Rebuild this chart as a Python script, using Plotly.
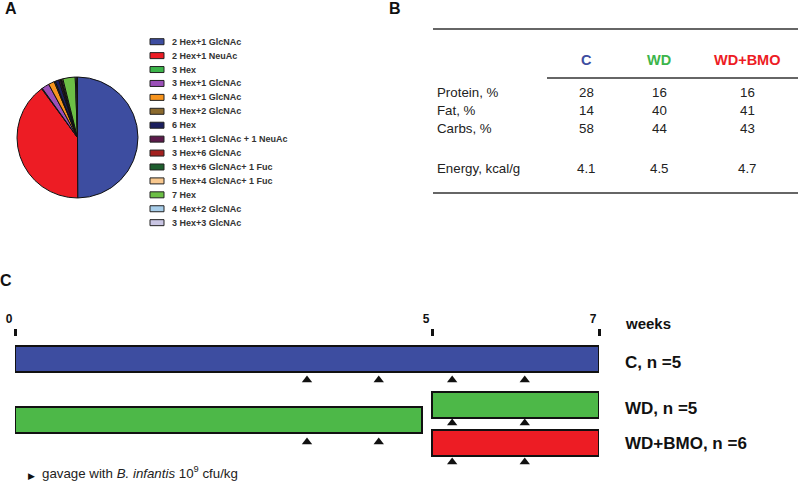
import plotly.graph_objects as go

# ---------------- data ----------------
glycan_labels = [
    "2 Hex+1 GlcNAc", "2 Hex+1 NeuAc", "3 Hex", "3 Hex+1 GlcNAc", "4 Hex+1 GlcNAc",
    "3 Hex+2 GlcNAc", "6 Hex", "1 Hex+1 GlcNAc + 1 NeuAc", "3 Hex+6 GlcNAc",
    "3 Hex+6 GlcNAc+ 1 Fuc", "5 Hex+4 GlcNAc+ 1 Fuc", "7 Hex", "4 Hex+2 GlcNAc",
    "3 Hex+3 GlcNAc",
]
glycan_values = [50.0, 40.0, 0.2, 2.0, 1.6, 0.3, 1.0, 0.4, 0.2, 0.2, 0.3, 3.3, 0.3, 0.3]
glycan_colors = [
    "#3D4DA0", "#ED1C24", "#3CB54A", "#9B50B8", "#F7941D", "#8B6A2E", "#1B1F5E",
    "#5B1A4A", "#A3201F", "#1E5E2E", "#F9C88E", "#6CBF45", "#A8CEEA", "#C9C5E3",
]

diet_groups = ["C", "WD", "WD+BMO"]
diet_colors = ["#3D4DA0", "#3CB54A", "#ED1C24"]
nutrient_rows = ["Protein, %", "Fat, %", "Carbs, %", "Energy, kcal/g"]
c_values = ["28", "14", "58", "4.1"]
wd_values = ["16", "40", "44", "4.5"]
wdbmo_values = ["16", "41", "43", "4.7"]

week_ticks = [0, 5, 7]
group_labels = ["C, n =5", "WD, n =5", "WD+BMO, n =6"]
phase_start = [0, 0, 5, 5]
phase_end = [7, 4.88, 7, 7]
phase_color = ["#3D4DA0", "#4DB848", "#4DB848", "#ED1C24"]
gavage_weeks_c = [3.5, 4.36, 5.24, 6.11]
gavage_weeks_wd = [3.5, 4.36, 5.24, 6.11]
gavage_weeks_wdbmo = [5.24, 6.11]

# ---------------- layout helpers ----------------
W, H = 800, 482
FONT = "Arial, Liberation Sans, sans-serif"


def px(x):
    return x / W


def py(y):
    return 1 - y / H


fig = go.Figure()
annotations = []
shapes = []

# ---------------- Panel A: pie ----------------
fig.add_trace(go.Pie(
    values=glycan_values, labels=glycan_labels, sort=False, direction="clockwise",
    rotation=0, textinfo="none", hoverinfo="label+percent",
    marker=dict(colors=glycan_colors, line=dict(color="#111111", width=1)),
    domain=dict(x=[px(17), px(138)], y=[py(198), py(77)]),
    showlegend=False,
))

leg_y0, leg_dy = 41.7, 13.92
for i, (lab, col) in enumerate(zip(glycan_labels, glycan_colors)):
    yc = leg_y0 + leg_dy * i
    shapes.append(dict(type="rect", xref="paper", yref="paper",
                       x0=px(150), x1=px(164), y0=py(yc + 3), y1=py(yc - 3),
                       fillcolor=col, line=dict(color="#222222", width=1)))
    annotations.append(dict(xref="paper", yref="paper", x=px(170), y=py(yc),
                            xanchor="left", yanchor="middle", showarrow=False,
                            text="<b>%s</b>" % lab,
                            font=dict(family=FONT, size=9, color="#333333")))

# ---------------- Panel B: table ----------------
for yline, x0 in [(29, 433), (78, 547), (193, 433)]:
    shapes.append(dict(type="line", xref="paper", yref="paper",
                       x0=px(x0), x1=px(798), y0=py(yline), y1=py(yline),
                       line=dict(color="#333333", width=1.5)))

col_x = [586, 659, 747]
for g, c, x in zip(diet_groups, diet_colors, col_x):
    annotations.append(dict(xref="paper", yref="paper", x=px(x), y=py(60),
                            xanchor="center", yanchor="middle", showarrow=False,
                            text="<b>%s</b>" % g, font=dict(family=FONT, size=14.5, color=c)))

row_y = [93, 111, 129, 168]
for r, yv, a, b, c in zip(nutrient_rows, row_y, c_values, wd_values, wdbmo_values):
    annotations.append(dict(xref="paper", yref="paper", x=px(435), y=py(yv),
                            xanchor="left", yanchor="middle", showarrow=False,
                            text=r, font=dict(family=FONT, size=13.3, color="#222222")))
    for v, x in zip([a, b, c], col_x):
        annotations.append(dict(xref="paper", yref="paper", x=px(x), y=py(yv),
                                xanchor="center", yanchor="middle", showarrow=False,
                                text=v, font=dict(family=FONT, size=13.3, color="#222222")))

# ---------------- Panel C: timeline ----------------
row_center = {"C": 359, "WD_a": 420, "WD_b": 405, "WD+BMO": 442.5}
phase_rows = ["C", "WD_a", "WD_b", "WD+BMO"]
fig.add_trace(go.Bar(
    orientation="h",
    base=phase_start,
    x=[e - s for s, e in zip(phase_start, phase_end)],
    y=[row_center[r] for r in phase_rows],
    width=26,
    marker=dict(color=phase_color, line=dict(color="#111111", width=2)),
    hoverinfo="skip", showlegend=False,
))

tri_x = gavage_weeks_c + gavage_weeks_wd + gavage_weeks_wdbmo
tri_y = ([380] * len(gavage_weeks_c)
         + [442 if w < 5 else 423 for w in gavage_weeks_wd]
         + [462] * len(gavage_weeks_wdbmo))
fig.add_trace(go.Scatter(
    x=tri_x, y=tri_y, mode="markers",
    marker=dict(symbol="triangle-up", size=9, color="#111111"),
    hoverinfo="skip", showlegend=False,
))

fig.update_xaxes(
    domain=[px(15), px(599)], range=[0, 7], side="top", anchor="y",
    tickvals=week_ticks, ticktext=["<b>%d</b>" % t for t in week_ticks],
    ticks="outside", ticklen=7, tickwidth=2.5, tickcolor="#111111",
    ticklabelshift=-6, ticklabelstandoff=1,
    tickfont=dict(family=FONT, size=12, color="#111111"),
    showline=False, showgrid=False, zeroline=False, fixedrange=True,
    automargin=False,
)
fig.update_yaxes(
    domain=[0, py(337)], range=[482, 337], visible=False,
    showgrid=False, zeroline=False, fixedrange=True, automargin=False,
)

for lab, yv in zip(group_labels, [362, 408, 443]):
    annotations.append(dict(xref="paper", yref="paper", x=px(623), y=py(yv),
                            xanchor="left", yanchor="middle", showarrow=False,
                            text="<b>%s</b>" % lab,
                            font=dict(family=FONT, size=17, color="#111111")))
annotations.append(dict(xref="paper", yref="paper", x=px(623), y=py(323),
                        xanchor="left", yanchor="middle", showarrow=False,
                        text="<b>weeks</b>", font=dict(family=FONT, size=15, color="#111111")))

# footnote
annotations.append(dict(xref="paper", yref="paper", x=px(26), y=py(475.5),
                        xanchor="left", yanchor="middle", showarrow=False,
                        text="\u25B6", font=dict(family="DejaVu Sans", size=9, color="#111111")))
annotations.append(dict(xref="paper", yref="paper", x=px(41), y=py(481.5),
                        xanchor="left", yanchor="bottom", showarrow=False, borderpad=0,
                        text="gavage with <i>B. infantis</i> 10<sup>9</sup> cfu/kg",
                        font=dict(family=FONT, size=13.3, color="#222222")))

# panel letters
for letter, (x, y) in zip(["A", "B", "C"], [(11, 8), (395, 8), (6, 280)]):
    annotations.append(dict(xref="paper", yref="paper", x=px(x), y=py(y),
                            xanchor="center", yanchor="middle", showarrow=False,
                            text="<b>%s</b>" % letter,
                            font=dict(family=FONT, size=16, color="#111111")))

fig.update_layout(
    width=W, height=H, margin=dict(l=0, r=0, t=0, b=0, pad=0, autoexpand=False),
    paper_bgcolor="white", plot_bgcolor="white",
    showlegend=False, bargap=0,
    annotations=annotations, shapes=shapes,
)

fig.write_html(
    "out.html",
    config={"displayModeBar": False},
    post_script="document.body.style.margin='0';document.body.style.overflow='hidden';",
)
